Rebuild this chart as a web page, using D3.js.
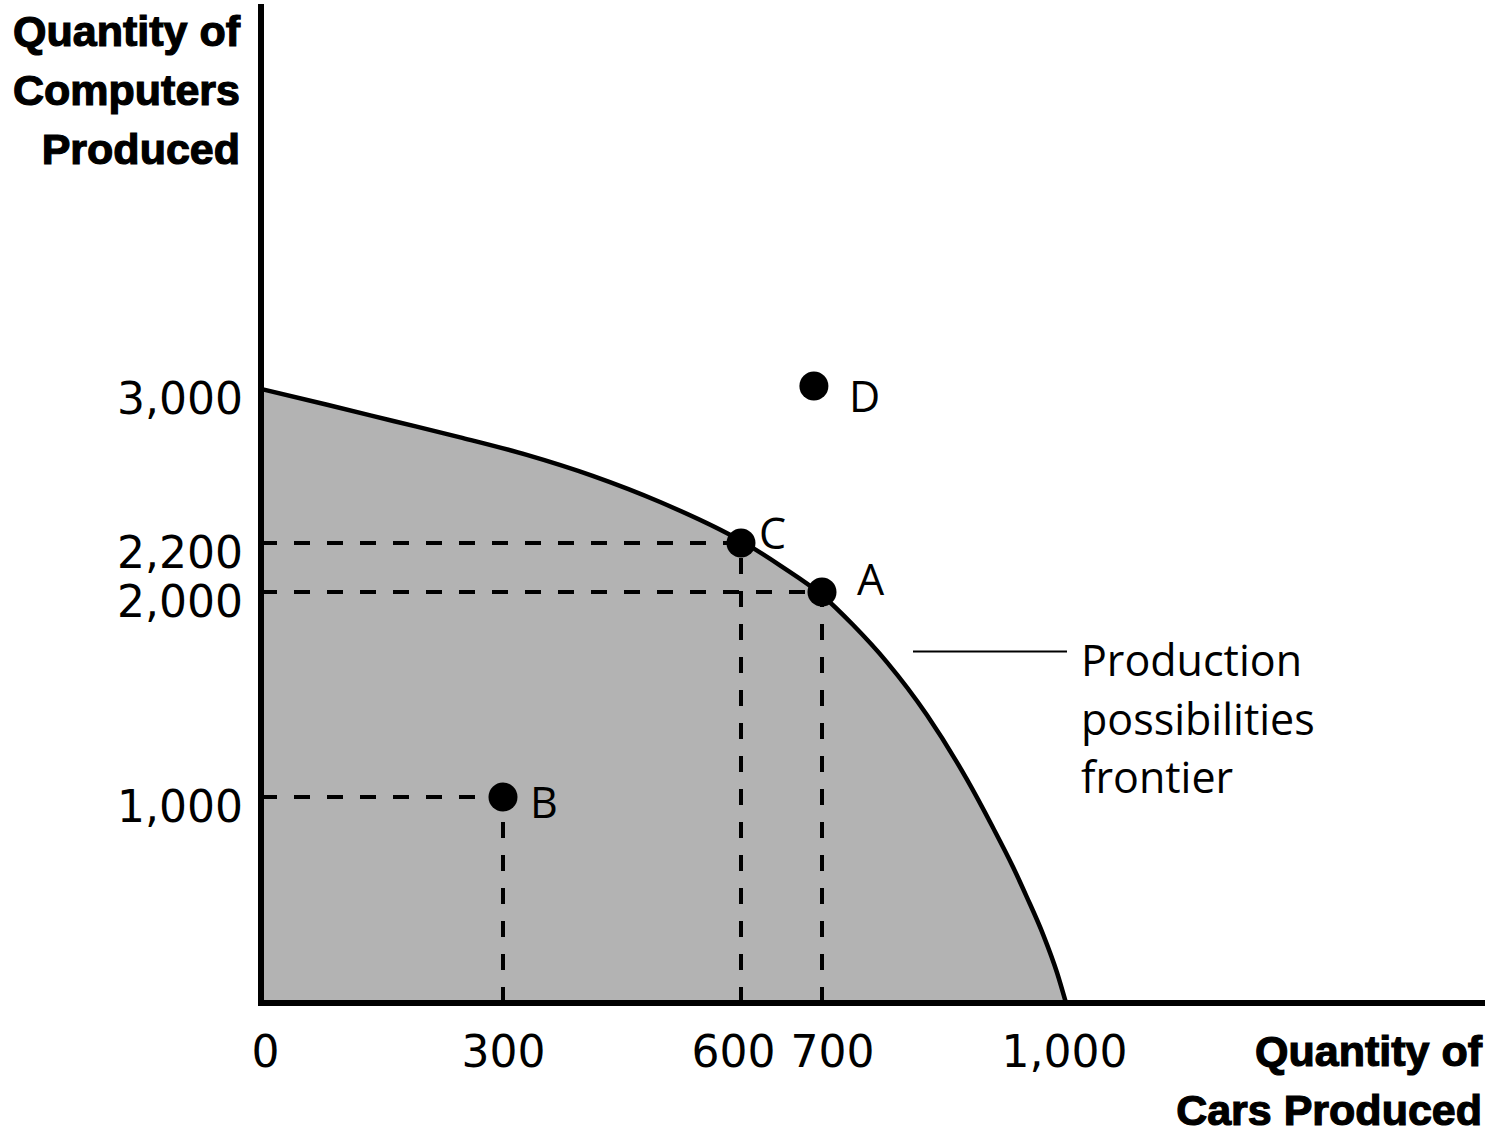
<!DOCTYPE html>
<html>
<head>
<meta charset="utf-8">
<script src="https://cdn.jsdelivr.net/npm/d3@7/dist/d3.min.js"></script>
<style>
  html, body { margin: 0; padding: 0; background: #fff; }
  svg { display: block; }
</style>
</head>
<body>
<svg id="chart" width="1493" height="1140"></svg>
<script>
// ---- data ----
const xTicks = [0, 300, 600, 700, 1000];
const yTicks = [1000, 2000, 2200, 3000];
const ppfCars      = [0, 82, 164, 247, 330, 413, 498, 600, 649, 699, 738, 780, 829, 878, 910, 935, 952, 972, 989, 1000];
const ppfComputers = [3000, 2918, 2834, 2749, 2658, 2549, 2413, 2211, 2107, 1988, 1840, 1657, 1400, 1087, 853, 659, 513, 331, 147, 0];
const pointNames     = ["A", "B", "C", "D"];
const pointCars      = [700, 300, 600, 690];
const pointComputers = [2000, 1000, 2200, 3015];
const guideNames = ["A", "B", "C"];
const yTitle = ["Quantity of", "Computers", "Produced"];
const xTitle = ["Quantity of", "Cars Produced"];
const curveLabel = ["Production", "possibilities", "frontier"];

// ---- layout ----
const svg = d3.select("#chart");
// the original drawing is not strictly to scale, so scales are piecewise-linear
const x = d3.scaleLinear().domain([0, 300, 600, 700, 1000]).range([261, 503, 741, 822, 1066]);
const y = d3.scaleLinear().domain([0, 1000, 2000, 2200, 3000]).range([1003, 797, 592, 543, 389]);

const numFont = "'DejaVu Sans', sans-serif";
const txtFont = "'Open Sans', 'Liberation Sans', sans-serif";
const boldFont = "'Liberation Sans', Arial, sans-serif";

const ppf = ppfCars.map((c, i) => ({ c, q: ppfComputers[i] }));
const pts = pointNames.map((n, i) => ({ n, c: pointCars[i], q: pointComputers[i] }));

// shaded area
const area = d3.area().x(d => x(d.c)).y0(y(0)).y1(d => y(d.q)).curve(d3.curveMonotoneX);
svg.append("path").datum(ppf).attr("d", area).attr("fill", "#b3b3b3");

// dashed guides
const guides = pts.filter(p => guideNames.includes(p.n));
const gg = svg.append("g").attr("stroke", "#000").attr("stroke-width", 4)
  .attr("stroke-dasharray", "16,17").attr("fill", "none");
guides.forEach(p => {
  gg.append("line").attr("x1", x(0)).attr("x2", x(p.c)).attr("y1", y(p.q)).attr("y2", y(p.q));
  gg.append("line").attr("x1", x(p.c)).attr("x2", x(p.c)).attr("y1", y(0)).attr("y2", y(p.q));
});

// frontier line
const line = d3.line().x(d => x(d.c)).y(d => y(d.q)).curve(d3.curveMonotoneX);
svg.append("path").datum(ppf).attr("d", line).attr("fill", "none")
  .attr("stroke", "#000").attr("stroke-width", 4.5);

// axes lines
svg.append("line").attr("x1", x(0)).attr("x2", x(0)).attr("y1", 4).attr("y2", y(0) + 3)
  .attr("stroke", "#000").attr("stroke-width", 6);
svg.append("line").attr("x1", x(0) - 3).attr("x2", 1485).attr("y1", y(0)).attr("y2", y(0))
  .attr("stroke", "#000").attr("stroke-width", 6);

// y tick labels via d3 axis
const yAxis = svg.append("g").attr("transform", `translate(${x(0)},0)`)
  .call(d3.axisLeft(y).tickValues(yTicks).tickSize(0).tickPadding(18).tickFormat(d3.format(",")));
yAxis.select(".domain").remove();
yAxis.selectAll("text").attr("dy", null).attr("y", 24)
  .attr("font-family", numFont).attr("font-size", 44).attr("fill", "#000");

// x tick labels via d3 axis
const xNudge = { 0: 4, 600: -8, 700: 10, 1000: -2 };
const xAxis = svg.append("g").attr("transform", `translate(0,${y(0)})`)
  .call(d3.axisBottom(x).tickValues(xTicks).tickSize(0).tickFormat(d3.format(",")));
xAxis.select(".domain").remove();
xAxis.selectAll("text").attr("dy", null).attr("y", 64)
  .attr("x", d => xNudge[d] || 0)
  .attr("font-family", numFont).attr("font-size", 44).attr("fill", "#000");

// dots
svg.append("g").selectAll("circle").data(pts).join("circle")
  .attr("cx", d => x(d.c)).attr("cy", d => y(d.q)).attr("r", 14.5).attr("fill", "#000");

// point labels
const labelOffset = { A: [35, 3], B: [27, 21], C: [18, 6], D: [35, 26] };
svg.append("g").selectAll("text").data(pts).join("text")
  .attr("x", d => x(d.c) + labelOffset[d.n][0])
  .attr("y", d => y(d.q) + labelOffset[d.n][1])
  .attr("font-family", txtFont).attr("font-size", 43).attr("fill", "#000")
  .text(d => d.n);

// leader line + curve label
svg.append("line").attr("x1", 913).attr("x2", 1067).attr("y1", 651.5).attr("y2", 651.5)
  .attr("stroke", "#000").attr("stroke-width", 2);
svg.append("g").selectAll("text").data(curveLabel).join("text")
  .attr("x", 1081).attr("y", (d, i) => 676 + i * 58.5)
  .attr("font-family", txtFont).attr("font-size", 43).attr("fill", "#000")
  .text(d => d);

// axis titles
const boldStyle = sel => sel.attr("font-family", boldFont).attr("font-weight", "bold")
  .attr("font-size", 43).attr("fill", "#000").attr("stroke", "#000").attr("stroke-width", 1.2)
  .attr("text-anchor", "end");
svg.append("g").selectAll("text").data(yTitle).join("text")
  .attr("x", 240).attr("y", (d, i) => 46 + i * 59).text(d => d).call(boldStyle);
svg.append("g").selectAll("text").data(xTitle).join("text")
  .attr("x", 1482).attr("y", (d, i) => 1066 + i * 59).text(d => d).call(boldStyle);
</script>
</body>
</html>
